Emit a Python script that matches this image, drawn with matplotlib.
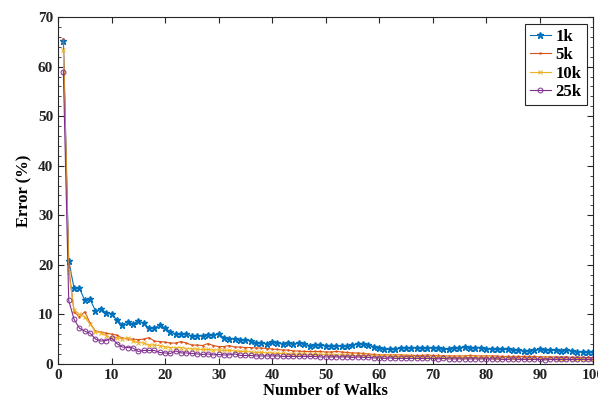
import matplotlib
matplotlib.use("Agg")
import matplotlib.pyplot as plt
from matplotlib.ticker import MultipleLocator
import numpy as np

# Error (%) versus number of walks for four sample sizes
walks = np.arange(1, 101)

err_1k = [65.2, 20.8, 15.3, 15.3, 12.8, 13.0, 10.7, 11.1, 10.3, 10.0,
          8.9, 7.9, 8.5, 8.0, 8.7, 8.2, 7.2, 7.2, 7.9, 7.2,
          6.5, 6.0, 6.0, 6.1, 5.6, 5.7, 5.7, 5.8, 5.8, 6.0,
          5.3, 5.1, 5.1, 4.8, 4.8, 4.7, 4.2, 4.2, 4.1, 4.4,
          4.3, 4.0, 4.3, 4.0, 4.2, 4.0, 3.7, 3.8, 3.8, 3.7,
          3.7, 3.7, 3.6, 3.6, 3.8, 4.0, 4.0, 3.8, 3.5, 3.2,
          3.0, 2.9, 3.1, 3.2, 3.2, 3.2, 3.3, 3.3, 3.2, 3.2,
          3.2, 3.0, 2.9, 3.3, 3.3, 3.4, 3.3, 3.3, 3.3, 3.0,
          3.0, 2.9, 2.9, 2.9, 2.8, 2.7, 2.6, 2.6, 2.7, 2.9,
          2.7, 2.7, 2.7, 2.6, 2.7, 2.6, 2.4, 2.4, 2.4, 2.3]

err_5k = [65.5, 19.5, 10.5, 9.5, 10.5, 8.2, 6.6, 6.4, 6.2, 6.0,
          5.8, 5.2, 5.0, 5.0, 4.9, 5.0, 5.3, 4.6, 4.5, 4.4,
          4.2, 4.2, 4.5, 4.2, 3.8, 3.8, 3.7, 4.1, 3.7, 3.5,
          3.5, 3.7, 3.4, 3.4, 3.3, 3.3, 3.2, 3.2, 3.1, 3.0,
          2.9, 2.8, 2.8, 2.6, 2.6, 2.5, 2.5, 2.5, 2.5, 2.4,
          2.4, 2.5, 2.4, 2.3, 2.2, 2.2, 2.1, 2.0, 1.9, 1.8,
          1.8, 1.8, 1.8, 1.8, 1.7, 1.7, 1.7, 1.7, 1.8, 1.7,
          1.7, 1.6, 1.6, 1.6, 1.6, 1.6, 1.7, 1.6, 1.6, 1.6,
          1.6, 1.6, 1.5, 1.5, 1.5, 1.5, 1.5, 1.5, 1.5, 1.4,
          1.4, 1.4, 1.4, 1.4, 1.4, 1.3, 1.4, 1.3, 1.3, 1.3]

err_10k = [63.3, 18.6, 10.9, 10.0, 9.4, 8.0, 6.5, 6.3, 5.7, 5.2,
           5.3, 5.0, 5.3, 4.6, 4.3, 4.2, 3.8, 3.8, 3.7, 3.4,
           3.3, 3.2, 3.3, 3.1, 3.0, 3.0, 2.9, 2.9, 2.8, 2.8,
           2.7, 2.7, 2.6, 2.5, 2.5, 2.4, 2.3, 2.3, 2.2, 2.2,
           2.1, 2.1, 2.0, 2.0, 2.0, 2.0, 1.9, 1.9, 1.9, 1.9,
           1.8, 1.8, 1.8, 1.8, 1.7, 1.7, 1.7, 1.7, 1.6, 1.6,
           1.6, 1.5, 1.5, 1.5, 1.5, 1.5, 1.4, 1.4, 1.4, 1.4,
           1.4, 1.4, 1.3, 1.3, 1.3, 1.3, 1.3, 1.3, 1.3, 1.3,
           1.2, 1.2, 1.2, 1.2, 1.2, 1.2, 1.1, 1.1, 1.1, 1.1,
           1.1, 1.1, 1.0, 1.0, 1.0, 1.0, 1.0, 1.0, 1.0, 1.0]

err_25k = [59.0, 12.8, 9.0, 7.2, 6.6, 6.2, 5.0, 4.6, 4.7, 5.2,
           4.1, 3.4, 3.3, 3.2, 2.5, 2.7, 2.7, 2.7, 2.3, 2.2,
           2.1, 2.6, 2.2, 2.2, 2.1, 2.0, 1.9, 2.0, 1.8, 1.9,
           1.8, 1.8, 2.0, 1.7, 1.7, 1.7, 1.6, 1.6, 1.6, 1.6,
           1.6, 1.5, 1.5, 1.5, 1.5, 1.5, 1.5, 1.5, 1.4, 1.4,
           1.4, 1.4, 1.4, 1.4, 1.3, 1.4, 1.3, 1.3, 1.2, 1.2,
           1.1, 1.2, 1.1, 1.1, 1.1, 1.1, 1.1, 1.1, 1.1, 1.1,
           1.0, 1.1, 1.0, 1.0, 1.0, 1.0, 1.0, 1.0, 1.0, 1.0,
           1.0, 1.0, 0.9, 0.9, 1.0, 0.9, 0.9, 0.9, 0.9, 0.9,
           0.8, 0.9, 0.9, 0.9, 0.9, 0.9, 0.9, 0.9, 0.9, 0.9]

labels = ["1k", "5k", "10k", "25k"]
x_ticks = list(range(0, 101, 10))
y_ticks = list(range(0, 71, 10))

plt.rcParams["font.family"] = ["Liberation Serif", "DejaVu Serif"]
plt.rcParams["font.weight"] = "bold"

fig = plt.figure(figsize=(5.98, 4.07), dpi=100)
ax = fig.add_axes([0.097, 0.106, 0.895, 0.852])

edge = "#262626"
ax.plot(walks, err_1k, color="#0072BD", lw=0.8, marker="*", ms=5, label=labels[0])
ax.plot(walks, err_5k, color="#D95319", lw=0.8, marker=".", ms=1.5, label=labels[1])
ax.plot(walks, err_10k, color="#EDB120", lw=0.8, marker="x", ms=3, mew=0.7, label=labels[2])
ax.plot(walks, err_25k, color="#7E2F8E", lw=0.8, marker="o", ms=3.5, mfc="none", mew=0.7, label=labels[3])

ax.set_xlim(0, 100)
ax.set_ylim(0, 70)
ax.set_xticks(x_ticks)
ax.set_yticks(y_ticks)
ax.yaxis.set_minor_locator(MultipleLocator(2))
ax.tick_params(which="both", direction="in", top=True, right=True, colors=edge,
               labelcolor="#222222", labelsize=11)
ax.tick_params(which="major", length=4, width=0.8)
ax.tick_params(which="minor", length=2.5, width=0.6)
for lbl in ax.get_xticklabels() + ax.get_yticklabels():
    lbl.set_fontweight("bold")
for s in ax.spines.values():
    s.set_color(edge)
    s.set_linewidth(0.8)

ax.set_xlabel("Number of Walks", fontsize=12, fontweight="bold", labelpad=1)
ax.set_ylabel("Error (%)", fontsize=12, fontweight="bold", labelpad=4)

leg = ax.legend(loc="upper right", prop={"weight": "bold", "size": 12},
                handlelength=1.3, handletextpad=0.25, borderpad=0.3, labelspacing=0.15,
                fancybox=False, framealpha=1, borderaxespad=0.4)
leg.get_frame().set_edgecolor(edge)
leg.get_frame().set_linewidth(0.8)

fig.savefig("out.png", dpi=100)
